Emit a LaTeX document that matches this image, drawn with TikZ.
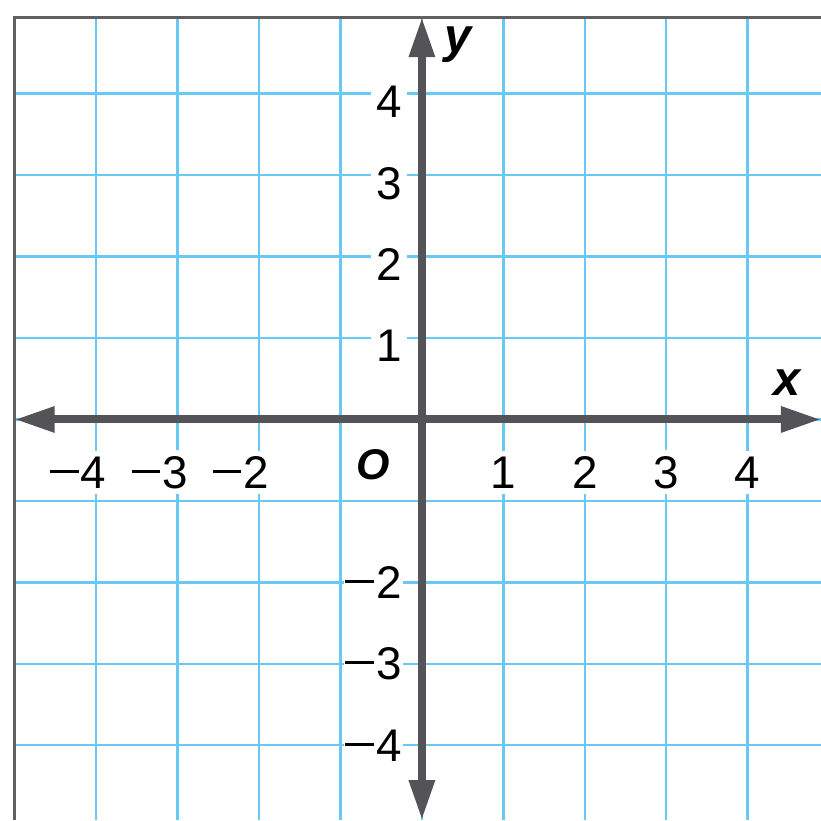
\documentclass[tikz,border=0pt]{standalone}
\usepackage{fontspec}
\setmainfont{Liberation Sans}
\usetikzlibrary{arrows.meta}
\definecolor{GridBlue}{RGB}{104,202,244}
\definecolor{AxisGray}{RGB}{84,84,88}
\definecolor{FrameGray}{RGB}{96,96,96}
\newcommand{\mns}{\rule[0.33em]{0.62em}{0.07em}\hspace{0.05em}}

\begin{document}
\begin{tikzpicture}[x=1cm,y=1cm,
  gridline/.style={GridBlue,line width=0.85pt},
  lbl/.style={fill=white,inner sep=2pt,font=\fontsize{16}{18}\selectfont},
  axislbl/.style={inner sep=1pt,font=\fontsize{17}{19}\selectfont\bfseries\itshape},
  axis/.style={AxisGray,line width=2.8pt,{Triangle[length=14pt,width=8.5pt]}-{Triangle[length=14pt,width=8.5pt]}}]
  \useasboundingbox (-5.18,-4.92) rectangle (4.90,5.15);
  \fill[white] (-5.18,-4.92) rectangle (4.90,5.15);
  % grid
  \foreach \k in {-4,...,4} {
    \draw[gridline] (\k,-4.92) -- (\k,4.94);
    \draw[gridline] (-5,\k) -- (4.9,\k);
  }
  \draw[FrameGray,line width=1pt] (-5,-4.92) -- (-5,4.94) -- (4.9,4.94);
  % numbers on the axes
  \foreach \x in {1,...,4}
    \node[lbl] (x\x) at (\x,-0.65) {\x};
  \foreach \x in {2,3,4}
    \node[lbl] (xm\x) at (-\x-0.22,-0.65) {\mns\x};
  \foreach \y in {1,...,4}
    \node[lbl,anchor=east] (y\y) at (-0.17,\y-0.1) {\y};
  \foreach \y in {2,3,4}
    \node[lbl,inner xsep=0.5pt,anchor=east] (ym\y) at (-0.225,-\y) {\mns\y};
  \node[inner sep=1pt,font=\fontsize{15}{17}\selectfont\bfseries\itshape] (orig) at (-0.6,-0.55) {O};
  % axes
  \coordinate (xl) at (-5,0);
  \coordinate (xr) at (4.9,0);
  \coordinate (yb) at (0,-4.92);
  \coordinate (yt) at (0,4.94);
  \draw[axis] (xl) -- (xr);
  \draw[axis] (yb) -- (yt);
  \node[axislbl] (xname) at (4.48,0.45) {x};
  \node[axislbl] (yname) at (0.44,4.6) {y};
\end{tikzpicture}
\end{document}
